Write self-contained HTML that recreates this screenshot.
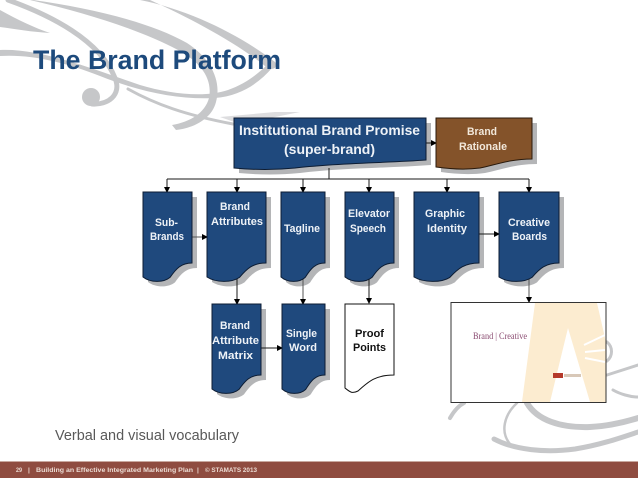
<!DOCTYPE html>
<html><head><meta charset="utf-8"><style>
html,body{margin:0;padding:0;background:#fff}
svg{display:block}
text{font-family:"Liberation Sans",sans-serif}
.w{fill:#eef2f7;font-weight:bold;font-size:11px}
.k{fill:#111;font-weight:bold;font-size:11px}
.c{fill:none;stroke:#1a1a1a;stroke-width:1}
.sw{fill:none;stroke:#c6c7c9;stroke-linecap:round}
</style></head><body>
<svg width="638" height="479" viewBox="0 0 638 479" xmlns="http://www.w3.org/2000/svg">
<defs>
<g id="docs">
<path d="M143 192H192V263C181.200 263 176.300 268.500 170 277.400C163.600 282.800 150.400 282.800 143 277Z"/>
<path d="M207 192H266V263C253 263 247.100 268.500 239.500 277.400C231.800 282.800 215.900 282.800 207 277Z"/>
<path d="M281 192H325V263C315.300 263 310.900 268.500 305.200 277.400C299.500 282.800 287.600 282.800 281 277Z"/>
<path d="M345 192H394V263C383.200 263 378.300 268.500 372 277.400C365.600 282.800 352.400 282.800 345 277Z"/>
<path d="M414 192H479V263C464.700 263 458.200 268.500 449.800 277.400C441.300 282.800 423.800 282.800 414 277Z"/>
<path d="M499 192H559V263C545.800 263 539.800 268.500 532 277.400C524.200 282.800 508 282.800 499 277Z"/>
<path d="M212 304H261V375C250.200 375 245.300 380.500 239 389.400C232.600 394.800 219.400 394.800 212 389Z"/>
<path d="M282 304H325V375C315.500 375 311.200 380.500 305.700 389.400C300.100 394.800 288.500 394.800 282 389Z"/>
</g>
<marker id="a" markerWidth="6" markerHeight="6" refX="5" refY="3" orient="auto" markerUnits="userSpaceOnUse"><path d="M0 0L6 3L0 6Z" fill="#000"/></marker>
</defs>
<!-- swirls -->
<path d="M0 10C18 20 35 28 50 33C32 32 15 29 0 27Z" fill="#c6c7c9"/>
<path class="sw" stroke-width="5" d="M8 0C50 15 100 40 115 78C122 95 108 105 92 104"/>
<circle cx="91" cy="97" r="9" fill="#c6c7c9"/>
<path d="M33 0C90 8 150 22 187 43C210 58 222 80 216 102C212 118 195 128 176 130L172 125C190 122 205 113 209 98C213 78 200 62 178 50C140 30 90 14 30 0Z" fill="#c6c7c9"/>
<path d="M140 0C190 10 240 35 275 62C280 68 270 72 265 66C235 42 190 18 150 0Z" fill="#c6c7c9"/>
<path d="M0 50C40 48 90 68 140 85C170 94 205 98 228 90C245 84 258 74 268 64L272 68C258 84 240 96 215 98C180 100 140 92 100 76C65 62 30 54 0 56Z" fill="#c6c7c9"/>
<path class="sw" stroke-width="3" d="M128 89C155 104 185 115 233 124"/>
<path d="M220 117L240 124L300 112L275 112Z" fill="#c6c7c9" opacity=".6"/>
<path class="sw" stroke-width="3" d="M607 342C613 347 613 356 607 361"/>
<path class="sw" stroke-width="3" d="M607 375L638 365"/>
<path class="sw" stroke-width="3" d="M613 390C620 394 630 397 638 397"/>
<path class="sw" stroke-width="4" d="M450 418C454 411 458 406 464 403"/>
<path class="sw" stroke-width="6" d="M527 403C537 420 560 428 590 427C610 426 625 422 638 418"/>
<path class="sw" stroke-width="2.500" d="M517 403C504 415 500 432 510 444"/>
<path class="sw" stroke-width="5" d="M494 439C515 450 545 453 575 449C600 445 620 438 638 432"/>
<!-- shadows -->
<path fill="#b4b5b7" d="M239 123H431V165C390 168 340 168 300 173C280 175 260 175 239 173Z"/>
<path fill="#b4b5b7" d="M441 123H537V164C515 164 500 170 485 173C470 175 455 174 441 172Z"/>
<use href="#docs" transform="translate(5 5)" fill="#b4b5b7"/>
<!-- connectors -->
<path class="c" d="M329 168V179M167 179H529"/>
<g class="c">
<path d="M167 179V192" marker-end="url(#a)"/>
<path d="M237 179V192" marker-end="url(#a)"/>
<path d="M303 179V192" marker-end="url(#a)"/>
<path d="M369 179V192" marker-end="url(#a)"/>
<path d="M447 179V192" marker-end="url(#a)"/>
<path d="M529 179V192" marker-end="url(#a)"/>
<path d="M426 143H436" marker-end="url(#a)"/>
<path d="M192 237H207" style="stroke:#555" marker-end="url(#a)"/>
<path d="M479 234H499" marker-end="url(#a)"/>
<path d="M261 348H282" marker-end="url(#a)"/>
<path d="M237 278V304" marker-end="url(#a)"/>
<path d="M303 278V304" style="stroke:#555" marker-end="url(#a)"/>
<path d="M369 278V303" marker-end="url(#a)"/>
<path d="M529 278V302" style="stroke:#555" marker-end="url(#a)"/>
</g>
<!-- nodes -->
<path fill="#1f497d" stroke="#0c1c33" d="M234 118H426V160C385 163 335 163 295 168C275 170 255 170 234 168Z"/>
<path d="M436 118H532V159C510 159 495 165 480 168C465 170 450 169 436 167Z" fill="#84532a" stroke="#2a1a0c"/>
<use href="#docs" fill="#1f497d" stroke="#0c1c33"/>
<path d="M345 304H394V375C375 375 368 382 358 391C352 394 350 392 345 388Z" fill="#fff" stroke="#111"/>
<!-- image -->
<rect x="451" y="302.500" width="155" height="100" fill="#fff"/>
<path d="M535 303H597L605.500 340V402H590L568 328L550 402H522Z" fill="#fcecd0"/>
<path d="M584 345L605 335M585 352L605 350M585 358L605 362" stroke="#fff" stroke-width="2"/>
<rect x="451" y="302.500" width="155" height="100" fill="none" stroke="#333"/>
<text x="473" y="339" font-size="9" textLength="54" lengthAdjust="spacingAndGlyphs" style="font-family:'Liberation Serif',serif;fill:#8a4a70">Brand | Creative</text>
<rect x="553" y="373" width="10" height="5" fill="#b5392a"/>
<rect x="564" y="374" width="17" height="3" fill="#d8c8b8"/>
<!-- title -->
<text x="33" y="69" font-size="27" font-weight="bold" fill="#1d4a7c" textLength="248" lengthAdjust="spacingAndGlyphs">The Brand Platform</text>
<!-- labels -->
<g class="w">
<text x="239" y="135" style="font-size:14px" textLength="181" lengthAdjust="spacingAndGlyphs">Institutional Brand Promise</text>
<text x="284" y="154" style="font-size:14px" textLength="91" lengthAdjust="spacingAndGlyphs">(super-brand)</text>
<text x="467" y="135" textLength="30" lengthAdjust="spacingAndGlyphs" style="fill:#f2e8da">Brand</text>
<text x="459" y="150" textLength="48" lengthAdjust="spacingAndGlyphs" style="fill:#f2e8da">Rationale</text>
<text x="155" y="226" textLength="23" lengthAdjust="spacingAndGlyphs">Sub-</text>
<text x="150" y="240" textLength="34" lengthAdjust="spacingAndGlyphs">Brands</text>
<text x="220" y="210" textLength="30" lengthAdjust="spacingAndGlyphs">Brand</text>
<text x="211" y="225" textLength="52" lengthAdjust="spacingAndGlyphs">Attributes</text>
<text x="284" y="232" textLength="36" lengthAdjust="spacingAndGlyphs">Tagline</text>
<text x="348" y="217" textLength="42" lengthAdjust="spacingAndGlyphs">Elevator</text>
<text x="350" y="232" textLength="36" lengthAdjust="spacingAndGlyphs">Speech</text>
<text x="425" y="217" textLength="40" lengthAdjust="spacingAndGlyphs">Graphic</text>
<text x="427" y="232" textLength="40" lengthAdjust="spacingAndGlyphs">Identity</text>
<text x="508" y="226" textLength="42" lengthAdjust="spacingAndGlyphs">Creative</text>
<text x="512" y="240" textLength="35" lengthAdjust="spacingAndGlyphs">Boards</text>
<text x="220" y="329" textLength="30" lengthAdjust="spacingAndGlyphs">Brand</text>
<text x="212" y="344" textLength="47" lengthAdjust="spacingAndGlyphs">Attribute</text>
<text x="218" y="359" textLength="35" lengthAdjust="spacingAndGlyphs">Matrix</text>
<text x="286" y="337" textLength="31" lengthAdjust="spacingAndGlyphs">Single</text>
<text x="289" y="351" textLength="28" lengthAdjust="spacingAndGlyphs">Word</text>
</g>
<text class="k" x="355" y="337" textLength="29" lengthAdjust="spacingAndGlyphs">Proof</text>
<text class="k" x="353" y="351" textLength="33" lengthAdjust="spacingAndGlyphs">Points</text>
<text x="55" y="440" font-size="14.500" fill="#595959" textLength="184" lengthAdjust="spacingAndGlyphs">Verbal and visual vocabulary</text>
<!-- footer -->
<rect x="0" y="462" width="638" height="16" fill="#8f4c40"/>
<rect x="0" y="461" width="638" height="1" fill="#c9a89f"/>
<g font-size="6.500" font-weight="bold" fill="#ecdcd4">
<text x="16" y="472" textLength="6" lengthAdjust="spacingAndGlyphs">29</text>
<text x="28" y="472">|</text>
<text x="36" y="472" textLength="157" lengthAdjust="spacingAndGlyphs">Building an Effective Integrated Marketing Plan</text>
<text x="197" y="472">|</text>
<text x="205" y="472" textLength="52" lengthAdjust="spacingAndGlyphs">© STAMATS 2013</text>
</g>
</svg>
</body></html>
